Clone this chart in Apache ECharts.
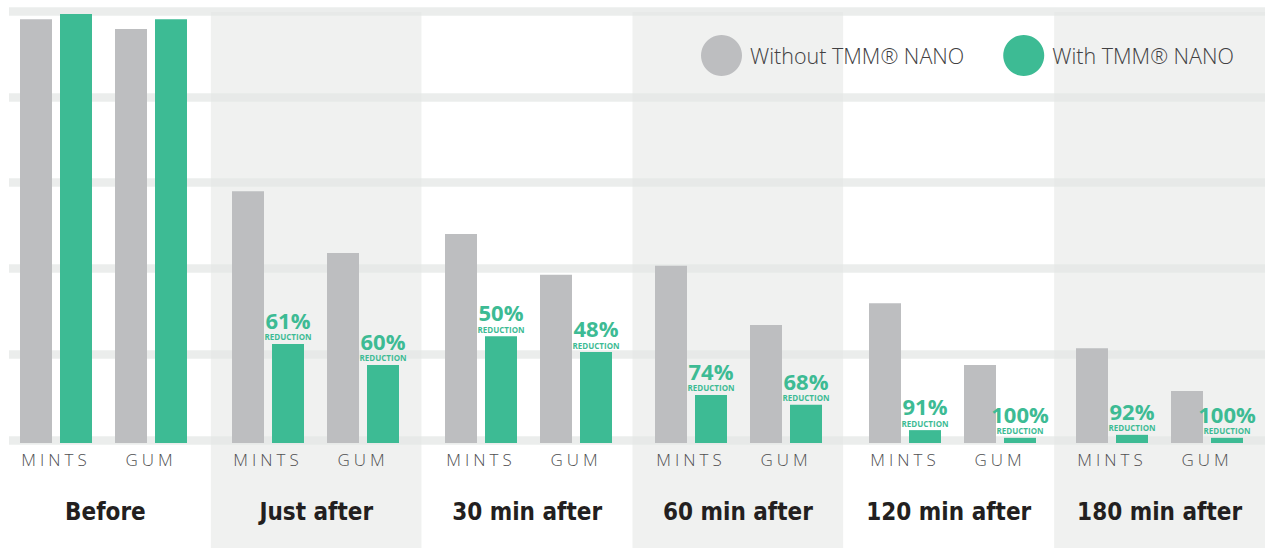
<!DOCTYPE html>
<html>
<head>
<meta charset="utf-8">
<script src="https://cdn.jsdelivr.net/npm/echarts@6/dist/echarts.min.js"></script>
<style>
  html, body { margin: 0; padding: 0; background: #fff; }
  #main { width: 1265px; height: 548px; }
  /* spaced capitals under the bars */
  #main svg text[fill="#505052"] { letter-spacing: 4px; }
  /* narrow bold group names */
  #main svg text[fill="#231f20"] { font-stretch: condensed !important; }
</style>
</head>
<body>
<div id="main"></div>
<script>
  const groups = ['Before', 'Just after', '30 min after', '60 min after', '120 min after', '180 min after'];
  const products = ['MINTS', 'GUM'];
  // relative level, Before ~ 100
  const withoutValues = [[98.8, 96.5], [58.7, 44.3], [48.7, 39.2], [41.3, 27.5], [32.6, 18.2], [22.1, 12.1]];
  const withValues = [[100, 98.8], [23.1, 18.2], [24.9, 21.2], [11.2, 8.9], [3.0, 1.2], [1.9, 1.2]];
  const reductions = [[null, null], ['61%', '60%'], ['50%', '48%'], ['74%', '68%'], ['91%', '100%'], ['92%', '100%']];

  const GREY = '#bdbec0';
  const GREEN = '#3dbb94';
  const pairCenters = [56, 268, 481, 691, 905, 1112];

  const chart = echarts.init(document.getElementById('main'), null, { renderer: 'svg' });

  const grid = [
    { left: -4, top: 12, width: 1272, bottom: 0 },   // column shading + group names
    { left: 9, top: 11, right: 0, bottom: 108 }      // thick guide bands
  ];
  const xAxis = [
    {
      type: 'category', gridIndex: 0, data: groups, z: 0,
      axisLine: { show: false }, axisTick: { show: false },
      splitArea: { show: true, interval: 0, areaStyle: { color: ['#ffffff', '#f0f1f0'] } },
      axisLabel: {
        interval: 0, inside: true, margin: 36, verticalAlign: 'middle',
        fontFamily: "'DejaVu Sans Condensed', 'DejaVu Sans', sans-serif",
        fontWeight: 'bold', fontSize: 24, color: '#231f20'
      }
    },
    { type: 'value', gridIndex: 1, min: 0, max: 1, show: false }
  ];
  const yAxis = [
    { type: 'value', gridIndex: 0, min: 0, max: 1, show: false },
    {
      type: 'value', gridIndex: 1, min: 0, max: 5, interval: 1, z: 1,
      axisLine: { show: false }, axisTick: { show: false }, axisLabel: { show: false },
      splitLine: { show: true, lineStyle: { color: 'rgba(228,230,229,0.73)', width: 8.5 } }
    }
  ];
  const series = [];

  groups.forEach(function (g, i) {
    const gi = grid.length;
    grid.push({ left: pairCenters[i] - 47.5, width: 190, top: 14, bottom: 105 });
    xAxis.push({
      type: 'category', gridIndex: gi, data: products, z: 3,
      axisLine: { show: false }, axisTick: { show: false },
      axisLabel: {
        interval: 0, margin: 8, fontSize: 17, fontWeight: 300, color: '#505052',
        fontFamily: "'Open Sans', 'Lato', sans-serif"
      }
    });
    yAxis.push({ type: 'value', gridIndex: gi, min: 0, max: 100, show: false, splitLine: { show: false } });

    series.push({
      name: 'Without TMM® NANO', type: 'bar', xAxisIndex: gi, yAxisIndex: gi,
      barWidth: 32, barGap: '25%', itemStyle: { color: GREY },
      data: withoutValues[i]
    });
    series.push({
      name: 'With TMM® NANO', type: 'bar', xAxisIndex: gi, yAxisIndex: gi,
      barWidth: 32, barGap: '25%', itemStyle: { color: GREEN },
      data: withValues[i],
      label: {
        show: reductions[i][0] !== null,
        position: 'top', distance: 2,
        formatter: function (p) {
          const r = reductions[i][p.dataIndex];
          return r ? '{p|' + r + '}\n{r|REDUCTION}' : '';
        },
        rich: {
          p: { fontFamily: "'Open Sans', sans-serif", fontWeight: 'bold', fontSize: 22, lineHeight: 24, color: GREEN, align: 'center' },
          r: { fontFamily: "'Open Sans', sans-serif", fontWeight: 'bold', fontSize: 8, lineHeight: 10, color: GREEN, align: 'center' }
        }
      }
    });
  });

  chart.setOption({
    animation: false,
    backgroundColor: '#ffffff',
    legend: {
      left: 696, top: 30, icon: 'circle', itemWidth: 41, itemHeight: 41, itemGap: 39,
      data: ['Without TMM® NANO', 'With TMM® NANO'],
      textStyle: {
        fontFamily: "'Open Sans', 'Lato', sans-serif", fontWeight: 300,
        fontSize: 21.5, color: '#414042', padding: [0, 0, 0, 3]
      }
    },
    grid: grid,
    xAxis: xAxis,
    yAxis: yAxis,
    series: series
  });
</script>
</body>
</html>
